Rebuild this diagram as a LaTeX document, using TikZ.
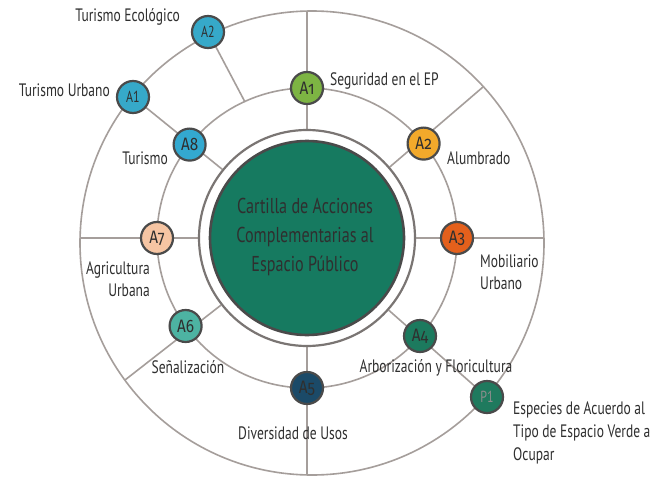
\documentclass[tikz,border=0pt]{standalone}
\usepackage{fontspec}
\setmainfont[FakeStretch=0.75]{PT Sans}
\newfontfamily\numfont[Numbers=OldStyle,FakeStretch=0.85]{Fira Sans}
\definecolor{linegray}{HTML}{A59E9B}
\definecolor{ringgray}{HTML}{7A7573}
\definecolor{nodeborder}{HTML}{4A4A4A}
\definecolor{txt}{HTML}{2F2F2F}
\definecolor{centergreen}{HTML}{167A60}
\definecolor{cA1}{HTML}{7DB443}
\definecolor{cA2}{HTML}{F2A92B}
\definecolor{cA3}{HTML}{E4601C}
\definecolor{cA4}{HTML}{1C7A5E}
\definecolor{cA5}{HTML}{1B4A68}
\definecolor{cA6}{HTML}{4DB3A2}
\definecolor{cA7}{HTML}{F6C5A3}
\definecolor{cA8}{HTML}{33A9D0}
\definecolor{cout}{HTML}{36A9C9}
\definecolor{cP}{HTML}{1F7A5E}
\begin{document}
\begin{tikzpicture}[x=1pt,y=-1pt,
  spoke/.style={draw=linegray,line width=1.6pt},
  anode/.style={circle,draw=nodeborder,line width=2.2pt,minimum size=32pt,inner sep=0pt,
    font=\numfont\fontsize{18}{18}\selectfont,text=txt},
  onode/.style={circle,draw=nodeborder,line width=2.2pt,minimum size=32pt,inner sep=0pt,
    font=\fontsize{16}{16}\selectfont,text=txt},
  lbl/.style={text=txt,font=\fontsize{18}{22}\selectfont,inner sep=0pt}
]
\useasboundingbox[fill=white] (0,0) rectangle (652,484);

\coordinate (C) at (307,238);
\coordinate (OC) at (312,243);
\coordinate (sN) at (307,11);
\coordinate (sS) at (307,475);
\coordinate (sW) at (80,238);
\coordinate (sE) at (544,238);
\coordinate (sNE) at (483,87);
\coordinate (sSW) at (125,380);
\coordinate (m1) at (245,102);

% spokes
\draw[spoke] (C) -- (sN);
\draw[spoke] (C) -- (sS);
\draw[spoke] (C) -- (sW);
\draw[spoke] (C) -- (sE);
\draw[spoke] (C) -- (sNE);
\draw[spoke] (C) -- (sSW);
\draw[spoke] (C) -- (133,97) coordinate (oA1pos);
\draw[spoke] (C) -- (487,397) coordinate (P1pos);
\draw[spoke] (m1) -- (208,32) coordinate (oA2pos);

% circles
\draw[linegray,line width=1.6pt] (OC) circle[radius=232pt];
\draw[linegray,line width=1.6pt] (C) circle[radius=150pt];
\fill[white] (C) circle[radius=109pt];
\draw[ringgray,line width=2.2pt] (C) circle[radius=108pt];
\draw[nodeborder,line width=2.6pt,fill=centergreen] (C) circle[radius=97pt];

% nodes
\node[anode,fill=cA1] (A1) at (307,88) {A1};
\node[anode,fill=cA2] (A2) at (423.6,143.6) {A2};
\node[anode,fill=cA3] (A3) at (457,238) {A3};
\node[anode,fill=cA4] (A4) at (420,336) {A4};
\node[anode,fill=cA5] (A5) at (307,388) {A5};
\node[anode,fill=cA6] (A6) at (185.6,326) {A6};
\node[anode,fill=cA7] (A7) at (157,238) {A7};
\node[anode,fill=cA8] (A8) at (189.6,144.6) {A8};
\node[onode,fill=cout] (oA1) at (oA1pos) {A1};
\node[onode,fill=cout] (oA2) at (oA2pos) {A2};
\node[onode,fill=cP,text=txt!55] (P1) at (P1pos) {P1};

% center text
\node[text=txt,font=\fontsize{21.5}{29}\selectfont,align=center] (ct) at (305,237)
  {Cartilla de Acciones\\Complementarias al\\Espacio Público};

% labels
\node[lbl,anchor=east] (lTE) at (180,17) {Turismo Ecológico};
\node[lbl,anchor=east] (lTU) at (110,90) {Turismo Urbano};
\node[lbl,anchor=east] (lT) at (168,158) {Turismo};
\node[lbl,anchor=west] (lS) at (330,81) {Seguridad en el EP};
\node[lbl,anchor=west] (lAl) at (447,158) {Alumbrado};
\node[lbl,anchor=west,align=left] (lMU) at (480,272) {Mobiliario\\Urbano};
\node[lbl] (lAF) at (436,368) {Arborización y Floricultura};
\node[lbl,anchor=west,align=left,font=\fontsize{18}{23}\selectfont] (lE) at (513,433)
  {Especies de Acuerdo al\\Tipo de Espacio Verde a\\Ocupar};
\node[lbl] (lD) at (293,433) {Diversidad de Usos};
\node[lbl] (lSe) at (188,367) {Señalización};
\node[lbl,anchor=east,align=right] (lAU) at (150,279) {Agricultura\\Urbana};
\end{tikzpicture}
\end{document}
